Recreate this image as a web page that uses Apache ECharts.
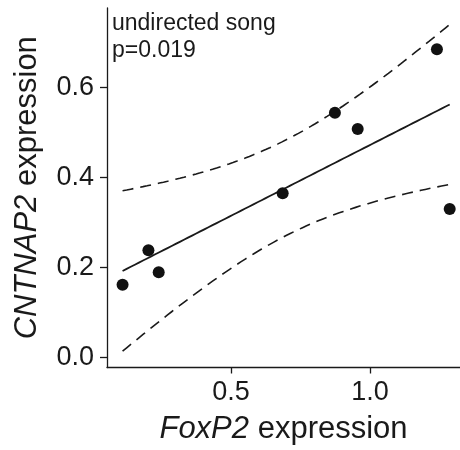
<!DOCTYPE html>
<html>
<head>
<meta charset="utf-8">
<script src="https://cdn.jsdelivr.net/npm/echarts@6/dist/echarts.min.js"></script>
<style>html,body{margin:0;padding:0;background:#fff;}#c{width:460px;height:450px;}</style>
</head>
<body>
<div id="c"></div>
<script>
// Data
const foxp2 = [0.110, 0.203, 0.240, 0.686, 0.874, 0.956, 1.241, 1.287];
const cntnap2 = [0.161, 0.238, 0.189, 0.365, 0.544, 0.508, 0.685, 0.330];
const yTicks = [0.0, 0.2, 0.4, 0.6];
const xTicks = [0.5, 1.0];
const annotation = ['undirected song', 'p=0.019'];
const tCrit = 2.447; // t(0.975, df = n-2 = 6)

// Linear regression + 95% confidence band computed from the data
const n = foxp2.length;
const mx = foxp2.reduce((a, b) => a + b, 0) / n;
const my = cntnap2.reduce((a, b) => a + b, 0) / n;
let sxx = 0, sxy = 0;
for (let i = 0; i < n; i++) { sxx += (foxp2[i] - mx) ** 2; sxy += (foxp2[i] - mx) * (cntnap2[i] - my); }
const slope = sxy / sxx, icpt = my - slope * mx;
let ssr = 0;
for (let i = 0; i < n; i++) { ssr += (cntnap2[i] - (icpt + slope * foxp2[i])) ** 2; }
const s = Math.sqrt(ssr / (n - 2));
const x0 = Math.min(...foxp2), x1 = Math.max(...foxp2);
const fit = [], upper = [], lower = [];
const steps = 80;
for (let k = 0; k <= steps; k++) {
  const x = x0 + (x1 - x0) * k / steps;
  const yh = icpt + slope * x;
  const hw = tCrit * s * Math.sqrt(1 / n + (x - mx) ** 2 / sxx);
  fit.push([x, yh]); upper.push([x, yh + hw]); lower.push([x, yh - hw]);
}

const FONT = "'Liberation Sans', Arial, Helvetica, sans-serif";
const INK = '#1a1a1a';
const chart = echarts.init(document.getElementById('c'), null, { renderer: 'canvas' });
chart.setOption({
  animation: false,
  backgroundColor: '#ffffff',
  grid: { left: 107, top: 8, right: 0, bottom: 82, containLabel: false },
  xAxis: {
    type: 'value', min: 0.054, max: 1.324,
    splitLine: { show: false },
    axisLine: { show: true, onZero: false, lineStyle: { color: INK, width: 1.3 } },
    axisTick: { show: true, length: 6, customValues: xTicks, lineStyle: { color: INK, width: 1.3 } },
    axisLabel: { customValues: xTicks, margin: 12, fontSize: 27, fontFamily: FONT, color: INK,
      formatter: v => v.toFixed(1) },
    name: '{i|FoxP2} expression', nameLocation: 'middle', nameGap: 62,
    nameTextStyle: { fontSize: 31, fontFamily: FONT, color: INK, verticalAlign: 'middle',
      rich: { i: { fontStyle: 'italic', fontSize: 31, fontFamily: FONT, color: INK } } }
  },
  yAxis: {
    type: 'value', min: -0.0229, max: 0.777,
    splitLine: { show: false },
    axisLine: { show: true, onZero: false, lineStyle: { color: INK, width: 1.3 } },
    axisTick: { show: true, length: 7, customValues: yTicks, lineStyle: { color: INK, width: 1.3 } },
    axisLabel: { customValues: yTicks, margin: 13, fontSize: 27, fontFamily: FONT, color: INK,
      formatter: v => v.toFixed(1) },
    name: '{i|CNTNAP2} expression', nameLocation: 'middle', nameGap: 80, nameRotate: 90,
    nameTextStyle: { fontSize: 31, fontFamily: FONT, color: INK, verticalAlign: 'middle',
      rich: { i: { fontStyle: 'italic', fontSize: 31, fontFamily: FONT, color: INK } } }
  },
  graphic: [
    { type: 'text', left: 112, top: 12, style: { text: annotation[0], font: '23px ' + FONT, fill: INK } },
    { type: 'text', left: 112, top: 39, style: { text: annotation[1], font: '23px ' + FONT, fill: INK } }
  ],
  series: [
    { type: 'line', data: upper, showSymbol: false, symbol: 'none', smooth: false,
      lineStyle: { color: INK, width: 1.6, type: [11, 7] }, silent: true },
    { type: 'line', data: lower, showSymbol: false, symbol: 'none', smooth: false,
      lineStyle: { color: INK, width: 1.6, type: [11, 7] }, silent: true },
    { type: 'line', data: fit, showSymbol: false, symbol: 'none',
      lineStyle: { color: INK, width: 1.8 }, silent: true },
    { type: 'scatter', data: foxp2.map((x, i) => [x, cntnap2[i]]), symbol: 'circle', symbolSize: 12,
      itemStyle: { color: '#111111', opacity: 1, borderWidth: 0 }, z: 5 }
  ]
});
</script>
</body>
</html>
